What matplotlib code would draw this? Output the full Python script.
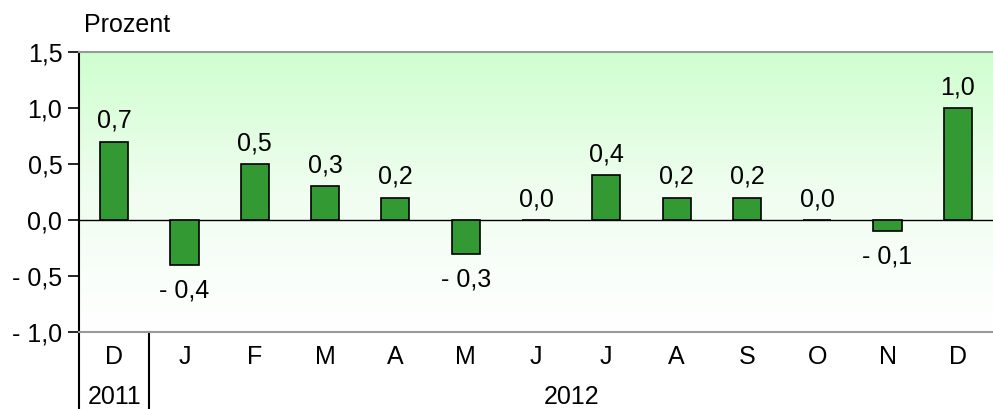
import numpy as np
import matplotlib
matplotlib.use("Agg")
import matplotlib.pyplot as plt
from matplotlib.colors import LinearSegmentedColormap

months = ["D", "J", "F", "M", "A", "M", "J", "J", "A", "S", "O", "N", "D"]
values = [0.7, -0.4, 0.5, 0.3, 0.2, -0.3, 0.0, 0.4, 0.2, 0.2, 0.0, -0.1, 1.0]
years = ["2011", "2012"]
yticks = [-1.0, -0.5, 0.0, 0.5, 1.0, 1.5]


def de_fmt(v):
    s = f"{abs(v):.1f}".replace(".", ",")
    return "- " + s if v < 0 else s


plt.rcParams["font.family"] = ["Liberation Sans", "DejaVu Sans"]
plt.rcParams["font.size"] = 18

fig = plt.figure(figsize=(9.93, 4.09), dpi=100)
ax = fig.add_axes([79 / 993, 1 - 332 / 409, 914 / 993, 280 / 409])

n = len(months)
x = np.arange(n)

# background gradient: light green at top fading to white
grad = np.linspace(1, 0, 256).reshape(-1, 1)
cmap = LinearSegmentedColormap.from_list("bg", ["#ffffff", "#f0fdf0", "#cfffcf"])
ax.imshow(grad, extent=[-0.5, n - 0.5, -1.0, 1.5], aspect="auto", cmap=cmap,
          origin="upper", zorder=0)

ax.bar(x, values, width=0.4, color="#339933", edgecolor="black", linewidth=1.2, zorder=3)
ax.axhline(0, color="black", lw=1.0, zorder=2)

for xi, v in zip(x, values):
    if v < 0:
        ax.text(xi, v - 0.12, de_fmt(v), ha="center", va="top")
    else:
        ax.text(xi, v + 0.08, de_fmt(v), ha="center", va="bottom")

ax.set_xlim(-0.5, n - 0.5)
ax.set_ylim(-1.0, 1.5)
ax.set_yticks(yticks)
ax.set_yticklabels([de_fmt(t) for t in yticks])
ax.tick_params(axis="y", length=8, width=1.2, pad=4)
ax.set_xticks([])

for side in ["top", "bottom"]:
    ax.spines[side].set_color("#999999")
    ax.spines[side].set_linewidth(1.5)
ax.spines["right"].set_visible(False)
ax.spines["left"].set_linewidth(1.5)

# month and year labels below the axis
for xi, m in zip(x, months):
    ax.text(xi, -1.0 - 0.22, m, ha="center", va="center", clip_on=False)
ax.text(0, -1.0 - 0.58, years[0], ha="center", va="center", clip_on=False)
ax.text((1 + n - 1) / 2, -1.0 - 0.58, years[1], ha="center", va="center", clip_on=False)

# separators below the axis
for xs in [-0.5, 0.5]:
    ax.plot([xs, xs], [-1.0, -1.7], color="black", lw=1.5, clip_on=False)

fig.text(84 / 993, 1 - 25 / 409, "Prozent", ha="left", va="center")

fig.savefig("out.png", dpi=100)
